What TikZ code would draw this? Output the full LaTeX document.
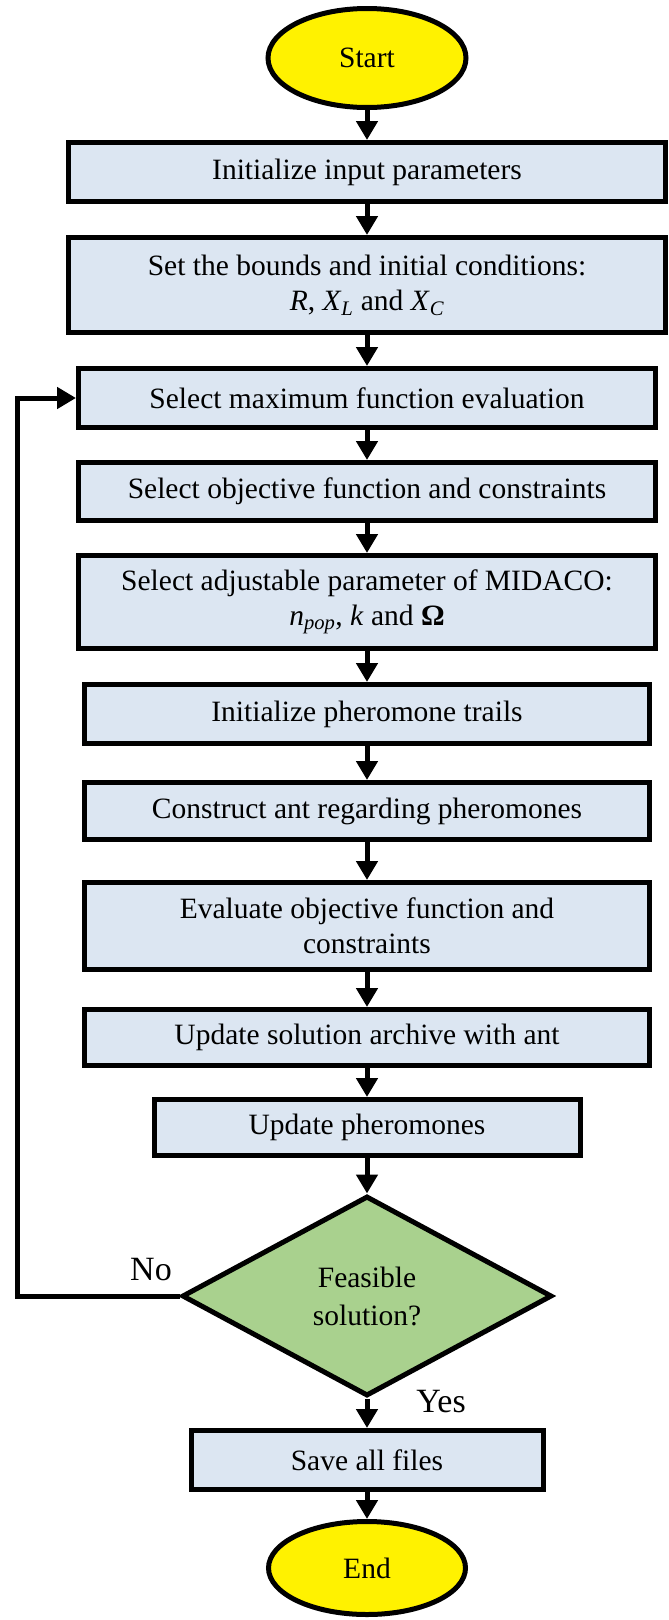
\documentclass[tikz,border=0pt]{standalone}
\usepackage{fontspec}
\setmainfont{Liberation Serif}
\usetikzlibrary{shapes.geometric,arrows.meta}
\tikzset {>={Triangle[width=21pt,length=19pt]}}

\definecolor{boxblue}{HTML}{DCE6F2}
\definecolor{testgreen}{HTML}{A9D18E}

\tikzset{
  procbox/.style={draw, line width=5pt, fill=boxblue, rectangle, inner sep=0pt,
    align=center, font=\fontsize{29.5}{35}\selectfont},
  termnode/.style={draw, line width=5pt, fill=yellow, ellipse, inner sep=0pt,
    font=\fontsize{29.5}{35}\selectfont},
  testnode/.style={draw, line width=5pt, fill=testgreen, diamond, inner sep=0pt,
    align=center, font=\fontsize{29.5}{38}\selectfont},
  flowline/.style={line width=5pt},
  answer/.style={font=\fontsize{34}{40}\selectfont}
}

\begin{document}
\begin{tikzpicture}[x=1pt,y=-1pt]
\useasboundingbox (0,0) rectangle (669,1620);

% Terminals, steps and test
\node[termnode, minimum width=198pt, minimum height=99pt] (start) at (367,58) {Start};
\node[procbox, minimum width=597pt, minimum height=59pt] (init) at (367,172) {Initialize input parameters};
\node[procbox, minimum width=597pt, minimum height=95pt] (bounds) at (367,285)
  {Set the bounds and initial conditions:\\
   \textit{R}, \textit{X}\textsubscript{\textit{L}} and \textit{X}\textsubscript{\textit{C}}};
\node[procbox, minimum width=577pt, minimum height=59pt] (maxeval) at (367,398) {Select maximum function evaluation};
\node[procbox, minimum width=577pt, minimum height=58pt] (objective) at (367,491.5) {Select objective function and constraints};
\node[procbox, minimum width=577pt, minimum height=93pt] (midaco) at (367,602)
  {Select adjustable parameter of MIDACO:\\
   \textit{n}\textsubscript{\textit{pop}}, \textit{k} and \textbf{Ω}};
\node[procbox, minimum width=565pt, minimum height=59pt] (trails) at (367,714) {Initialize pheromone trails};
\node[procbox, minimum width=565pt, minimum height=57pt] (construct) at (367,811) {Construct ant regarding pheromones};
\node[procbox, minimum width=565pt, minimum height=87pt] (evaluate) at (367,926)
  {Evaluate objective function and\\ constraints};
\node[procbox, minimum width=565pt, minimum height=56pt] (archive) at (367,1037.5) {Update solution archive with ant};
\node[procbox, minimum width=426pt, minimum height=56pt] (update) at (367,1127.5) {Update pheromones};
\node[testnode, minimum width=370pt, minimum height=200pt, aspect=1.85] (feasible) at (367,1296)
  {Feasible\\ solution?};
\node[procbox, minimum width=352pt, minimum height=59pt] (save) at (367,1460) {Save all files};
\node[termnode, minimum width=197pt, minimum height=93pt] (end) at (367,1568) {End};

% Main flow
\draw [flowline,->] (start) -- (init);
\draw [flowline,->] (init) -- (bounds);
\draw [flowline,->] (bounds) -- (maxeval);
\draw [flowline,->] (maxeval) -- (objective);
\draw [flowline,->] (objective) -- (midaco);
\draw [flowline,->] (midaco) -- (trails);
\draw [flowline,->] (trails) -- (construct);
\draw [flowline,->] (construct) -- (evaluate);
\draw [flowline,->] (evaluate) -- (archive);
\draw [flowline,->] (archive) -- (update);
\draw [flowline,->] (update) -- (feasible);
\draw [flowline,->] (feasible) -- (save);
\draw [flowline,->] (save) -- (end);

% Loop back when not feasible
\coordinate (loop) at (17,1296);
\draw [flowline,->] (feasible.west) -- (loop) |- (maxeval.west);

% Answers
\node[answer] (no) at (151,1270) {No};
\node[answer] (yes) at (441,1402) {Yes};

\end{tikzpicture}
\end{document}
